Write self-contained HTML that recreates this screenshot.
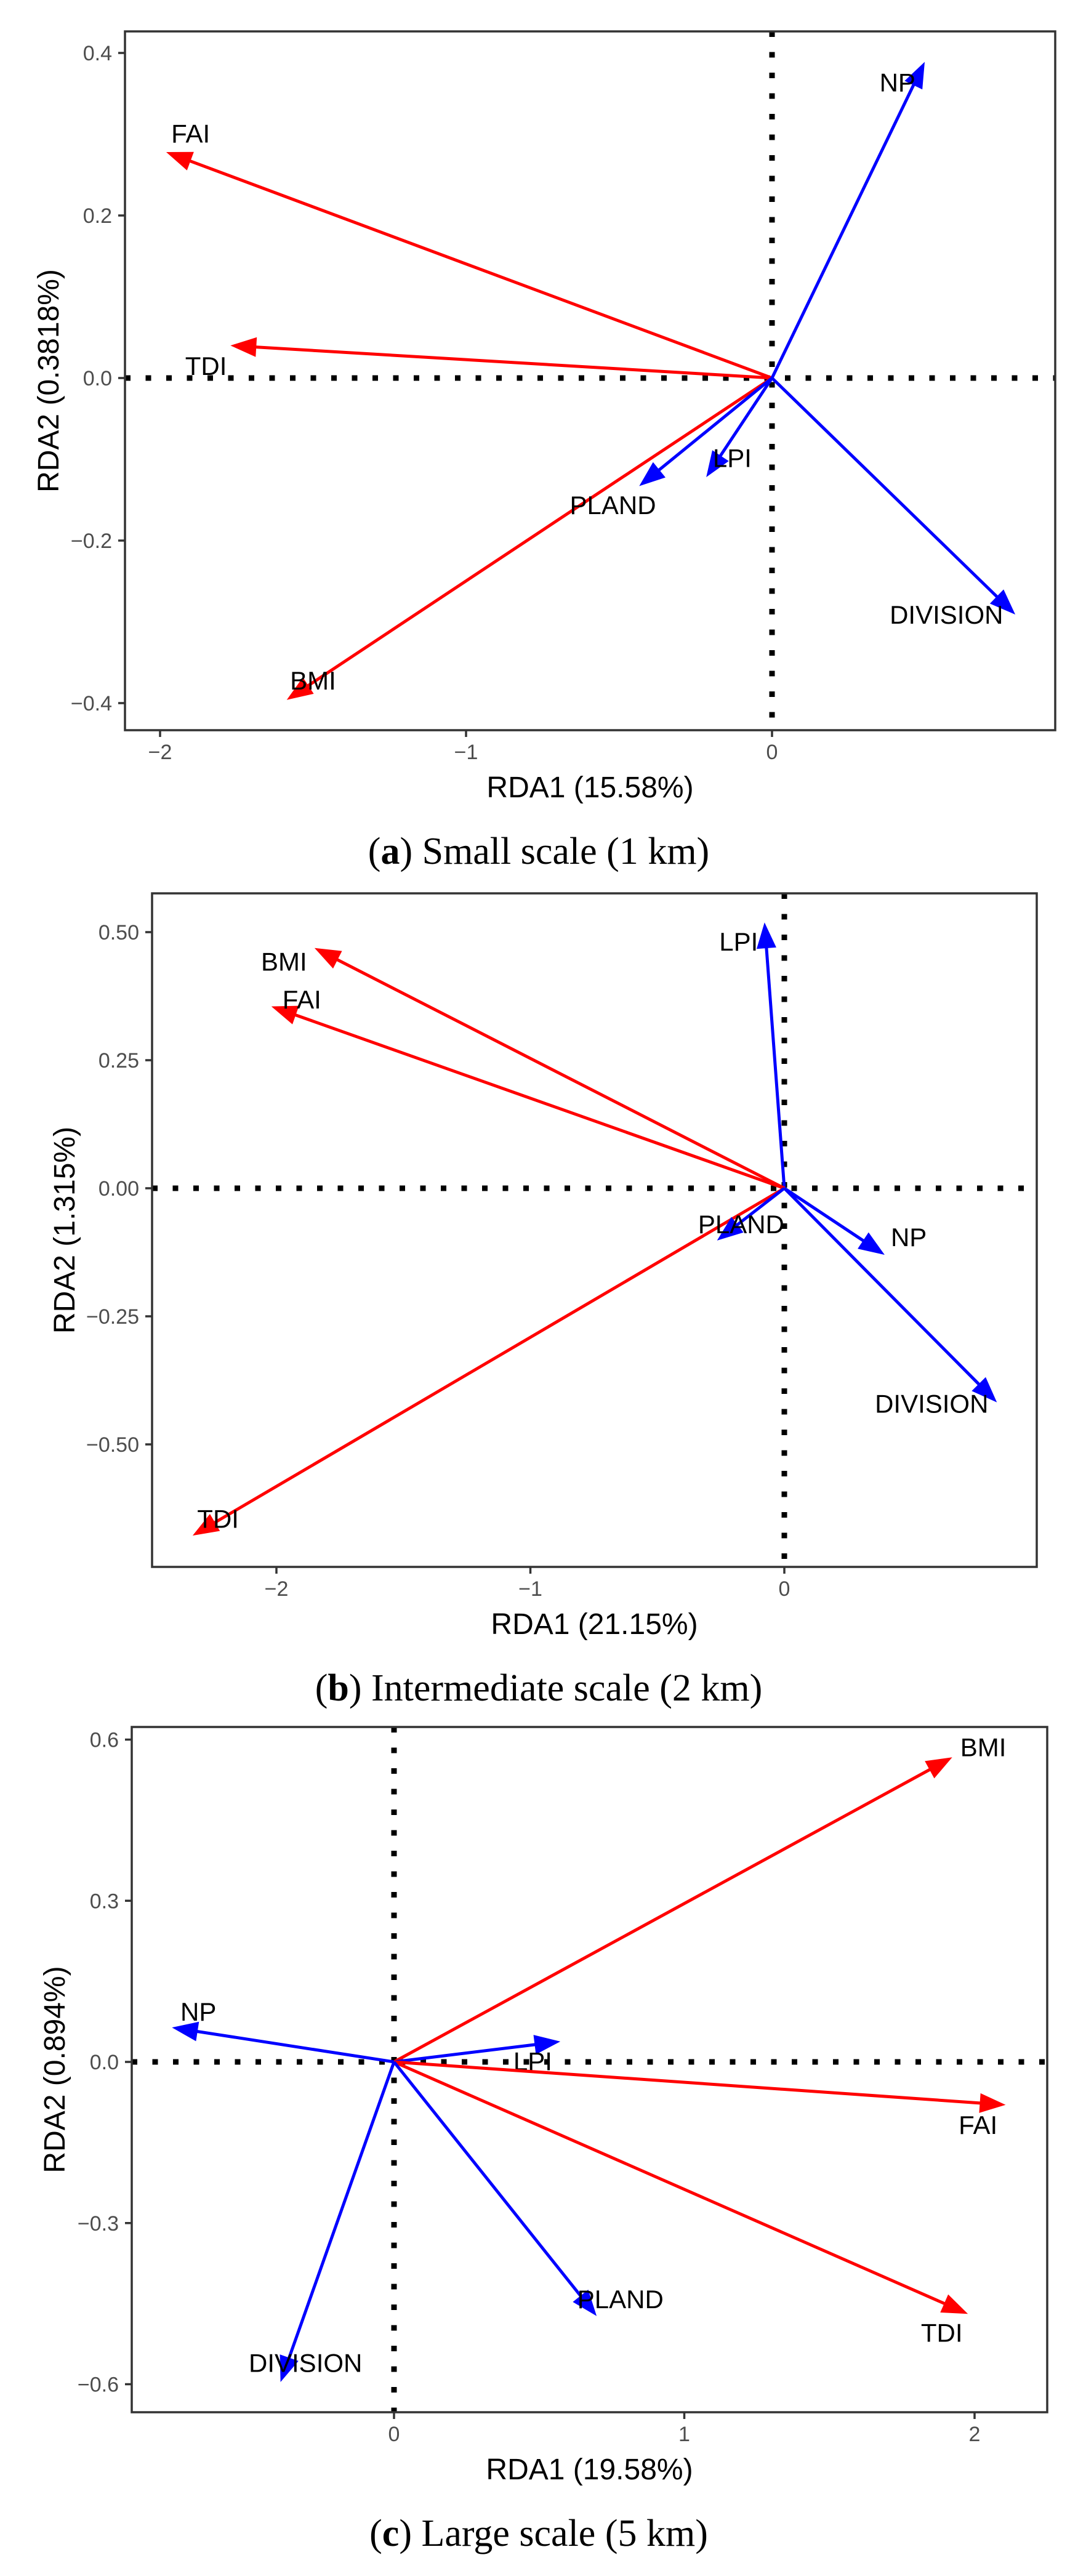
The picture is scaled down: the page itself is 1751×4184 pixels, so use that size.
<!DOCTYPE html>
<html><head><meta charset="utf-8"><title>RDA biplots</title>
<style>
html,body{margin:0;padding:0;background:#fff;}
svg{display:block;}
.tick{font-family:"Liberation Sans",sans-serif;font-size:34px;fill:#4d4d4d;}
.lab{font-family:"Liberation Sans",sans-serif;font-size:42px;fill:#000;}
.title{font-family:"Liberation Sans",sans-serif;font-size:48px;fill:#000;}
.cap{font-family:"Liberation Serif",serif;font-size:62px;fill:#000;}
</style></head>
<body>
<svg id="fig" width="1751" height="4184" viewBox="0 0 1751 4184" xmlns="http://www.w3.org/2000/svg"></svg>
<script>
// ---- Panel a data ----
const namesA = ["FAI","TDI","BMI","NP","DIVISION","PLAND","LPI"];
const typeA = ["env","env","env","land","land","land","land"];
const rda1A = [-1.98,-1.77,-1.586,0.499,0.795,-0.434,-0.215];
const rda2A = [0.278,0.040,-0.396,0.389,-0.291,-0.133,-0.122];
const labXA = [-1.90,-1.85,-1.50,0.41,0.57,-0.52,-0.13];
const labYA = [0.301,0.015,-0.372,0.364,-0.291,-0.156,-0.098];
const xTicksA = [-2,-1,0];
const xTickLabelsA = ["\u22122","\u22121","0"];
const yTicksA = [0.4,0.2,0,-0.2,-0.4];
const yTickLabelsA = ["0.4","0.2","0.0","\u22120.2","\u22120.4"];

// ---- Panel b data ----
const namesB = ["LPI","BMI","FAI","TDI","PLAND","NP","DIVISION"];
const typeB = ["land","env","env","env","land","land","land"];
const rda1B = [-0.078,-1.85,-2.02,-2.33,-0.265,0.395,0.837];
const rda2B = [0.519,0.469,0.355,-0.678,-0.102,-0.130,-0.418];
const labXB = [-0.18,-1.97,-1.90,-2.23,-0.17,0.49,0.58];
const labYB = [0.482,0.443,0.369,-0.645,-0.070,-0.095,-0.420];
const xTicksB = [-2,-1,0];
const xTickLabelsB = ["\u22122","\u22121","0"];
const yTicksB = [0.5,0.25,0,-0.25,-0.5];
const yTickLabelsB = ["0.50","0.25","0.00","\u22120.25","\u22120.50"];

// ---- Panel c data ----
const namesC = ["BMI","NP","LPI","FAI","TDI","PLAND","DIVISION"];
const typeC = ["env","land","land","env","env","land","land"];
const rda1C = [1.923,-0.765,0.573,2.107,1.977,0.698,-0.391];
const rda2C = [0.567,0.064,0.038,-0.080,-0.469,-0.473,-0.596];
const labXC = [2.03,-0.674,0.478,2.012,1.887,0.780,-0.305];
const labYC = [0.586,0.094,0.002,-0.117,-0.504,-0.441,-0.560];
const xTicksC = [0,1,2];
const xTickLabelsC = ["0","1","2"];
const yTicksC = [0.6,0.3,0,-0.3,-0.6];
const yTickLabelsC = ["0.6","0.3","0.0","\u22120.3","\u22120.6"];

const NS = "http://www.w3.org/2000/svg";
const svg = document.getElementById("fig");
function mk(tag, attrs, parent){
  const e = document.createElementNS(NS, tag);
  for (const k in attrs) e.setAttribute(k, attrs[k]);
  (parent||svg).appendChild(e);
  return e;
}

function panel(cfg){
  const g = mk("g", {});
  
  
  const xs = v => cfg.x0 + cfg.xu * v;
  const ys = v => cfg.y0 - cfg.yu * v;
  const dot = {stroke:"#000","stroke-width":9,"stroke-dasharray":"9 24.5",fill:"none"};
  const hl = mk("line", Object.assign({x1:cfg.L,y1:ys(0),x2:cfg.R,y2:ys(0)},dot), g);
  
  
  const vl = mk("line", Object.assign({x1:xs(0),y1:cfg.T,x2:xs(0),y2:cfg.B},dot), g);
  
  
  for (let i=0;i<cfg.names.length;i++){
    const col = cfg.types[i]==="env" ? "#ff0000" : "#0000ff";
    const tx = xs(cfg.r1[i]), ty = ys(cfg.r2[i]);
    const ox = xs(0), oy = ys(0);
    const dx = tx-ox, dy = ty-oy, len = Math.hypot(dx,dy);
    const ux = dx/len, uy = dy/len, hl2 = 42, hw = 16;
    const bx = tx-ux*hl2, by = ty-uy*hl2;
    const ln = mk("line",{x1:ox,y1:oy,x2:bx+ux*4,y2:by+uy*4,stroke:col,"stroke-width":5}, g);
    
    
    const hd = mk("polygon",{points:`${tx},${ty} ${bx-uy*hw},${by+ux*hw} ${bx+uy*hw},${by-ux*hw}`,fill:col}, g);
    
    
    const t = mk("text",{x:xs(cfg.lx[i]),y:ys(cfg.ly[i])+15,"text-anchor":"middle",class:"lab"}, g);
    t.textContent = cfg.names[i];
    
    
  }
  const fr = mk("rect",{x:cfg.L,y:cfg.T,width:cfg.R-cfg.L,height:cfg.B-cfg.T,fill:"none",stroke:"#333","stroke-width":3.5}, g);
  
  
  for (let i=0;i<cfg.xt.length;i++){
    const x = xs(cfg.xt[i]);
    const tk = mk("line",{x1:x,y1:cfg.B,x2:x,y2:cfg.B+11,stroke:"#333","stroke-width":3.5}, g);
    
    
    const t = mk("text",{x:x,y:cfg.B+47,"text-anchor":"middle",class:"tick"}, g);
    t.textContent = cfg.xtl[i];
    
    
  }
  for (let i=0;i<cfg.yt.length;i++){
    const y = ys(cfg.yt[i]);
    const tk = mk("line",{x1:cfg.L-11,y1:y,x2:cfg.L,y2:y,stroke:"#333","stroke-width":3.5}, g);
    
    
    const t = mk("text",{x:cfg.L-21,y:y+12,"text-anchor":"end",class:"tick"}, g);
    t.textContent = cfg.ytl[i];
    
    
  }
  const xt = mk("text",{x:(cfg.L+cfg.R)/2,y:cfg.B+109,"text-anchor":"middle",class:"title"}, g);
  xt.textContent = cfg.xtitle;
  
  
  const ycx = cfg.ytx, ycy = (cfg.T+cfg.B)/2;
  const yt = mk("text",{x:ycx,y:ycy,"text-anchor":"middle",class:"title",transform:`rotate(-90 ${ycx} ${ycy})`,"font-size":"50"}, g);
  yt.textContent = cfg.ytitle;
  
  
  const cp = mk("text",{x:875,y:cfg.B+217,"text-anchor":"middle",class:"cap"}, g);
  const b = document.createElementNS(NS,"tspan"); b.textContent="(";
  cp.appendChild(b);
  const bb = document.createElementNS(NS,"tspan"); bb.setAttribute("font-weight","bold"); bb.textContent=cfg.letter;
  cp.appendChild(bb);
  const rest = document.createElementNS(NS,"tspan"); rest.textContent=") " + cfg.caption;
  cp.appendChild(rest);
  
  
}

panel({id:"a",L:203,R:1714,T:51,B:1186,x0:1254,xu:497,y0:614,yu:1320,
  names:namesA,types:typeA,r1:rda1A,r2:rda2A,lx:labXA,ly:labYA,
  xt:xTicksA,xtl:xTickLabelsA,yt:yTicksA,ytl:yTickLabelsA,
  xtitle:"RDA1 (15.58%)",ytitle:"RDA2 (0.3818%)",ytx:95,letter:"a",caption:"Small scale (1 km)"});
panel({id:"b",L:247,R:1684,T:1451,B:2545,x0:1274,xu:412.5,y0:1930,yu:832,
  names:namesB,types:typeB,r1:rda1B,r2:rda2B,lx:labXB,ly:labYB,
  xt:xTicksB,xtl:xTickLabelsB,yt:yTicksB,ytl:yTickLabelsB,
  xtitle:"RDA1 (21.15%)",ytitle:"RDA2 (1.315%)",ytx:121,letter:"b",caption:"Intermediate scale (2 km)"});
panel({id:"c",L:214,R:1701,T:2805,B:3918,x0:640,xu:471.5,y0:3349,yu:872.5,
  names:namesC,types:typeC,r1:rda1C,r2:rda2C,lx:labXC,ly:labYC,
  xt:xTicksC,xtl:xTickLabelsC,yt:yTicksC,ytl:yTickLabelsC,
  xtitle:"RDA1 (19.58%)",ytitle:"RDA2 (0.894%)",ytx:105,letter:"c",caption:"Large scale (5 km)"});
</script>
</body></html>
